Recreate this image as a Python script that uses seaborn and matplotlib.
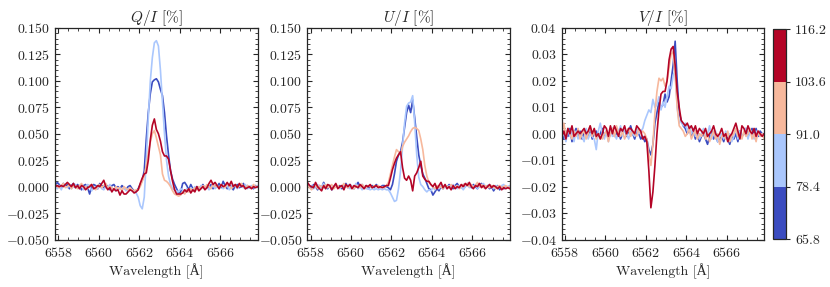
import numpy as np
import pandas as pd
import matplotlib
matplotlib.use("Agg")
import matplotlib.pyplot as plt
import seaborn as sns
from matplotlib.colors import ListedColormap, BoundaryNorm
from matplotlib.cm import ScalarMappable
from matplotlib.ticker import MultipleLocator, AutoMinorLocator

# wavelength grid [A], 101 samples across the H-alpha window
wavelength = np.linspace(6557.85, 6567.85, 101)

# colour-bar bin edges and the bin that each profile belongs to
bin_edges = [65.8, 78.4, 91.0, 103.6, 116.2]
bin_names = ["65.8-78.4", "78.4-91.0", "91.0-103.6", "103.6-116.2"]

# Q/I [%] profiles, one per bin
q_bin0 = [0.001, 0.004, 0.002, -0.001, 0.003, 0.000, 0.002, -0.002, 0.001, 0.003,
          -0.001, 0.002, 0.000, -0.003, 0.001, 0.002, -0.001, -0.007, 0.000, 0.002,
          0.001, -0.002, 0.003, 0.001, -0.001, 0.002, 0.000, -0.003, 0.001, 0.002,
          -0.001, 0.000, -0.002, 0.001, -0.001, -0.003, 0.000, 0.001, -0.002, -0.004,
          -0.004, -0.002, 0.002, 0.006, 0.015, 0.045, 0.070, 0.088, 0.099, 0.101,
          0.102, 0.099, 0.092, 0.086, 0.070, 0.048, 0.030, 0.015, 0.007, 0.002,
          -0.002, -0.006, -0.005, 0.003, 0.004, 0.001, -0.003, 0.002, -0.002, -0.004,
          0.000, -0.003, -0.001, 0.002, -0.002, 0.000, -0.001, 0.002, -0.002, 0.001,
          0.000, 0.003, -0.001, 0.005, 0.001, -0.002, 0.002, 0.000, -0.003, 0.001,
          0.002, -0.001, 0.000, 0.003, -0.002, 0.001, -0.001, 0.000, -0.002, 0.001,
          0.000]
q_bin1 = [0.000, -0.002, 0.001, -0.003, 0.002, 0.000, -0.001, 0.001, -0.002, 0.000,
          0.002, -0.001, -0.002, 0.001, -0.003, 0.000, 0.002, 0.001, -0.004, -0.001,
          0.000, -0.002, 0.001, -0.002, -0.003, 0.000, -0.001, 0.002, -0.002, -0.003,
          -0.004, -0.001, -0.002, -0.003, -0.001, -0.004, -0.002, -0.003, -0.004, -0.005,
          -0.006, -0.010, -0.018, -0.021, -0.010, 0.025, 0.065, 0.100, 0.122, 0.136,
          0.138, 0.133, 0.110, 0.080, 0.050, 0.025, 0.010, 0.002, -0.002, -0.003,
          -0.004, -0.005, -0.002, -0.003, -0.006, -0.002, -0.004, -0.001, -0.003, 0.000,
          -0.002, -0.003, 0.001, -0.001, -0.002, 0.000, -0.003, -0.001, 0.001, -0.002,
          0.000, -0.001, 0.002, -0.002, 0.000, 0.001, -0.003, -0.001, 0.002, 0.000,
          -0.002, 0.001, 0.000, -0.001, 0.002, -0.002, 0.000, 0.001, -0.001, 0.000,
          0.001]
q_bin2 = [0.002, 0.000, -0.001, 0.001, 0.003, -0.001, 0.000, 0.002, -0.002, 0.001,
          0.000, -0.002, 0.001, 0.003, -0.001, 0.000, -0.002, 0.001, 0.002, -0.001,
          -0.003, 0.000, 0.002, -0.001, 0.001, 0.003, -0.002, 0.000, -0.001, -0.003,
          0.000, -0.002, -0.001, -0.004, 0.000, -0.002, -0.003, -0.001, -0.003, -0.004,
          -0.003, -0.003, 0.000, 0.005, 0.010, 0.020, 0.032, 0.042, 0.050, 0.053,
          0.046, 0.038, 0.030, 0.012, 0.006, 0.005, 0.003, 0.000, -0.004, -0.007,
          -0.008, -0.009, -0.008, -0.005, -0.007, -0.003, -0.005, -0.002, -0.004, -0.001,
          -0.003, 0.000, -0.002, 0.001, -0.001, 0.002, 0.000, -0.002, 0.003, 0.000,
          0.001, -0.002, 0.002, 0.000, -0.001, 0.003, 0.001, -0.002, 0.000, 0.002,
          -0.001, 0.001, 0.003, 0.000, -0.002, 0.001, 0.000, -0.001, 0.002, 0.000,
          0.000]
q_bin3 = [0.000, 0.001, 0.000, 0.001, 0.000, 0.002, 0.004, 0.002, 0.000, 0.003,
          -0.001, 0.001, -0.002, 0.001, 0.000, -0.003, -0.001, 0.000, 0.002, -0.002,
          -0.001, 0.001, 0.000, 0.003, 0.006, 0.000, -0.003, -0.001, -0.005, -0.002,
          -0.004, -0.003, -0.008, -0.004, -0.007, -0.007, -0.005, -0.003, -0.004, -0.006,
          -0.005, -0.003, 0.003, 0.008, 0.012, 0.013, 0.025, 0.044, 0.058, 0.064,
          0.054, 0.050, 0.043, 0.033, 0.029, 0.029, 0.026, 0.015, 0.005, -0.003,
          -0.007, -0.007, -0.007, -0.006, -0.003, -0.005, -0.002, -0.006, -0.003, -0.005,
          0.000, -0.004, -0.002, 0.000, -0.003, -0.001, 0.003, 0.006, 0.002, 0.004,
          0.001, -0.002, 0.002, 0.000, 0.001, 0.004, 0.001, 0.005, 0.000, 0.002,
          -0.001, 0.003, 0.000, 0.001, -0.002, -0.001, 0.000, -0.002, 0.000, -0.001,
          0.000]

# U/I [%] profiles
u_bin0 = [0.003, 0.001, -0.002, 0.002, 0.000, -0.003, 0.001, -0.001, 0.004, 0.000,
          -0.002, 0.001, -0.003, 0.000, 0.002, -0.001, 0.001, -0.002, 0.000, 0.003,
          -0.001, 0.002, 0.000, -0.002, 0.001, 0.004, 0.000, 0.002, -0.001, 0.001,
          -0.002, 0.000, 0.001, -0.001, 0.002, 0.000, -0.001, 0.001, 0.001, 0.000,
          -0.001, -0.003, 0.002, 0.012, 0.024, 0.030, 0.033, 0.042, 0.056, 0.070,
          0.077, 0.070, 0.082, 0.065, 0.047, 0.030, 0.020, 0.012, 0.008, 0.003,
          -0.002, -0.003, -0.008, -0.005, -0.002, -0.004, 0.000, -0.002, 0.001, -0.001,
          0.002, 0.000, -0.002, 0.001, 0.003, 0.000, -0.001, 0.002, 0.000, 0.003,
          0.001, -0.001, 0.002, 0.000, -0.002, 0.001, 0.003, 0.000, -0.001, 0.001,
          -0.002, 0.000, -0.004, -0.001, 0.001, -0.003, 0.000, -0.002, -0.001, 0.000,
          -0.001]
u_bin1 = [0.002, 0.000, 0.001, -0.002, 0.000, 0.002, -0.001, 0.000, 0.003, -0.002,
          0.000, 0.001, -0.003, -0.001, 0.002, 0.000, -0.002, 0.001, -0.001, 0.000,
          0.002, -0.002, 0.000, -0.001, 0.003, -0.002, 0.000, -0.003, -0.001, -0.002,
          -0.002, -0.003, -0.002, -0.003, -0.002, -0.003, -0.002, -0.003, -0.002, -0.003,
          -0.003, -0.006, -0.010, -0.014, -0.013, -0.002, 0.015, 0.038, 0.060, 0.076,
          0.079, 0.080, 0.086, 0.060, 0.030, 0.009, 0.002, 0.000, -0.003, -0.005,
          -0.003, -0.004, -0.001, -0.003, 0.000, -0.002, 0.001, -0.001, 0.000, -0.002,
          0.001, -0.001, 0.002, 0.000, -0.002, 0.001, 0.000, -0.003, 0.000, 0.002,
          -0.001, 0.001, 0.000, 0.002, -0.002, 0.000, 0.001, 0.003, -0.001, 0.000,
          0.002, 0.000, -0.002, 0.001, 0.000, -0.001, 0.001, 0.002, -0.001, 0.000,
          0.001]
u_bin2 = [0.001, -0.001, -0.003, 0.000, 0.002, -0.002, 0.001, 0.000, -0.001, 0.002,
          -0.001, 0.000, 0.002, -0.002, 0.000, 0.001, -0.001, 0.000, 0.003, 0.000,
          -0.001, 0.001, 0.000, -0.002, 0.001, 0.000, -0.001, 0.002, 0.000, -0.001,
          0.001, 0.000, -0.001, 0.001, 0.000, 0.001, -0.001, 0.000, -0.001, 0.001,
          0.004, 0.012, 0.020, 0.028, 0.035, 0.033, 0.030, 0.038, 0.042, 0.045,
          0.048, 0.052, 0.055, 0.056, 0.055, 0.053, 0.045, 0.035, 0.020, 0.010,
          0.004, 0.002, 0.000, -0.002, 0.001, -0.001, 0.000, -0.002, 0.001, 0.000,
          -0.001, 0.002, 0.000, -0.001, 0.001, -0.002, 0.000, 0.002, 0.001, 0.003,
          0.000, 0.002, -0.001, 0.001, 0.004, 0.000, 0.002, -0.001, 0.001, 0.000,
          -0.001, 0.001, 0.000, -0.002, 0.000, 0.001, -0.001, 0.000, 0.001, -0.001,
          0.000]
u_bin3 = [0.004, 0.001, 0.000, -0.001, 0.004, 0.000, -0.002, -0.004, 0.001, -0.002,
          0.002, 0.001, -0.003, 0.000, 0.003, -0.002, 0.000, 0.001, -0.003, 0.002,
          0.000, 0.002, -0.002, 0.001, 0.000, -0.001, 0.002, 0.000, -0.002, 0.001,
          0.000, 0.002, -0.001, 0.000, 0.001, -0.001, 0.000, -0.001, 0.000, 0.001,
          0.001, 0.008, 0.016, 0.022, 0.027, 0.030, 0.033, 0.018, 0.008, 0.006,
          0.010, 0.006, -0.004, 0.010, 0.013, 0.018, 0.024, 0.010, 0.007, 0.005,
          0.005, 0.002, 0.000, 0.003, -0.002, 0.001, 0.004, -0.001, 0.002, -0.002,
          0.000, -0.003, 0.001, -0.002, 0.000, -0.001, 0.002, 0.000, 0.003, 0.001,
          0.004, 0.000, -0.002, 0.001, 0.000, 0.003, -0.001, 0.001, -0.002, 0.000,
          0.002, -0.001, 0.001, 0.000, -0.002, 0.000, -0.003, -0.001, -0.002, -0.001,
          -0.002]

# V/I [%] profiles
v_bin0 = [0.000, -0.002, 0.001, -0.001, 0.002, -0.003, 0.000, 0.002, -0.001, 0.001,
          -0.002, 0.001, 0.000, -0.001, 0.002, -0.002, 0.000, 0.001, -0.001, 0.000,
          0.002, -0.001, 0.001, -0.002, 0.000, 0.002, -0.001, 0.000, 0.001, -0.002,
          0.000, 0.002, -0.001, 0.001, 0.003, 0.000, -0.002, 0.001, 0.000, -0.002,
          -0.001, -0.003, -0.002, -0.006, -0.008, -0.004, 0.004, 0.008, 0.012, 0.010,
          0.011, 0.015, 0.012, 0.014, 0.020, 0.026, 0.035, 0.020, 0.008, 0.005,
          0.003, 0.002, 0.000, 0.002, -0.001, 0.001, -0.002, 0.000, -0.003, -0.001,
          0.000, -0.002, -0.004, -0.001, 0.001, -0.002, 0.000, -0.003, -0.002, -0.001,
          -0.003, 0.000, -0.002, -0.004, -0.001, -0.002, 0.000, -0.003, 0.001, -0.001,
          0.000, 0.002, -0.001, 0.001, 0.002, 0.000, 0.002, -0.001, 0.001, 0.000,
          0.000]
v_bin1 = [-0.002, 0.001, -0.003, 0.002, -0.001, 0.000, -0.003, 0.001, -0.002, 0.000,
          -0.001, -0.003, 0.002, -0.002, 0.000, -0.001, -0.002, -0.006, 0.001, 0.004,
          0.000, -0.002, 0.001, -0.003, 0.002, -0.001, 0.000, -0.002, 0.001, 0.003,
          -0.001, 0.002, 0.000, -0.002, 0.001, 0.000, -0.001, 0.002, 0.000, 0.001,
          0.002, 0.005, 0.007, 0.009, 0.008, 0.013, 0.010, 0.011, 0.014, 0.009,
          0.012, 0.010, 0.014, 0.018, 0.017, 0.022, 0.024, 0.010, 0.004, 0.005,
          0.003, 0.004, 0.001, 0.003, 0.000, 0.002, -0.001, 0.001, -0.002, 0.000,
          0.002, -0.001, 0.000, 0.003, -0.002, 0.000, 0.001, -0.003, -0.001, 0.000,
          -0.002, 0.001, -0.001, 0.000, -0.003, -0.001, 0.002, -0.002, 0.001, -0.001,
          0.000, 0.002, -0.002, 0.001, 0.000, -0.002, 0.001, 0.000, -0.001, 0.000,
          -0.001]
v_bin2 = [0.000, 0.004, -0.001, 0.002, 0.000, -0.002, 0.001, -0.001, 0.002, -0.002,
          0.000, 0.001, -0.002, 0.000, 0.003, -0.001, 0.001, -0.002, 0.000, -0.001,
          -0.002, 0.000, 0.001, -0.003, 0.000, 0.002, -0.001, 0.003, 0.000, -0.001,
          0.001, -0.002, 0.000, 0.002, -0.001, 0.001, 0.000, -0.001, 0.002, 0.000,
          0.001, 0.000, -0.002, -0.008, -0.012, -0.004, 0.008, 0.016, 0.021, 0.020,
          0.021, 0.018, 0.020, 0.025, 0.030, 0.031, 0.022, 0.010, 0.003, 0.002,
          0.001, -0.001, 0.000, 0.002, -0.002, 0.000, 0.001, -0.002, 0.000, -0.001,
          0.001, -0.002, 0.000, -0.003, -0.001, 0.001, -0.002, 0.000, -0.004, -0.001,
          0.000, -0.002, 0.001, -0.003, -0.001, 0.000, 0.002, -0.001, 0.000, -0.002,
          0.001, -0.001, 0.000, 0.002, -0.002, 0.000, -0.003, 0.001, -0.001, 0.000,
          -0.002]
v_bin3 = [-0.001, 0.001, -0.002, 0.002, 0.000, 0.003, -0.001, 0.000, 0.001, 0.000,
          0.001, 0.002, 0.000, 0.001, 0.003, 0.000, 0.002, -0.001, 0.000, -0.002,
          0.000, 0.003, 0.002, -0.001, 0.003, 0.000, 0.003, 0.001, -0.001, 0.002,
          0.001, 0.003, 0.000, 0.002, 0.002, 0.001, 0.000, 0.003, 0.002, 0.001,
          -0.002, -0.001, -0.003, -0.014, -0.028, -0.022, -0.012, 0.000, 0.009, 0.015,
          0.016, 0.016, 0.020, 0.028, 0.032, 0.033, 0.026, 0.016, 0.010, 0.005,
          0.004, 0.003, 0.004, 0.002, 0.003, 0.001, 0.003, 0.000, 0.002, 0.001,
          0.000, 0.002, -0.001, 0.000, 0.001, 0.003, 0.000, -0.001, 0.000, 0.002,
          -0.001, 0.000, -0.003, -0.001, 0.000, 0.002, 0.004, 0.001, -0.002, 0.003,
          0.002, 0.000, 0.003, 0.001, 0.000, 0.002, -0.001, 0.001, 0.000, -0.001,
          0.000]

panel_titles = [r"$Q/I$ [%]", r"$U/I$ [%]", r"$V/I$ [%]"]
panel_series = [[q_bin0, q_bin1, q_bin2, q_bin3],
                [u_bin0, u_bin1, u_bin2, u_bin3],
                [v_bin0, v_bin1, v_bin2, v_bin3]]
panel_ylims = [(-0.05, 0.15), (-0.05, 0.15), (-0.04, 0.04)]
panel_ysteps = [0.025, 0.025, 0.01]

sns.set_style("ticks")
plt.rcParams["font.family"] = ["cmr10", "Liberation Serif"]
plt.rcParams["mathtext.fontset"] = "cm"
plt.rcParams["axes.formatter.use_mathtext"] = True
plt.rcParams["axes.linewidth"] = 0.9
plt.rcParams["font.size"] = 10

cmap = plt.get_cmap("coolwarm")
colors = [cmap(v) for v in np.linspace(0, 1, 4)]
palette = dict(zip(bin_names, colors))

fig = plt.figure(figsize=(8.3, 2.87), dpi=100)
lefts = [0.0663, 0.3702, 0.6767]

for k in range(3):
    ax = fig.add_axes([lefts[k], 0.1655, 0.244, 0.737])
    rows = []
    for name, vals in zip(bin_names, panel_series[k]):
        rows.append(pd.DataFrame({"wavelength": wavelength, "value": vals, "bin": name}))
    df = pd.concat(rows, ignore_index=True)
    sns.lineplot(data=df, x="wavelength", y="value", hue="bin", hue_order=bin_names,
                 palette=palette, legend=False, lw=1.2, ax=ax)
    ax.set_xlim(wavelength[0] - 0.01, wavelength[-1])
    ax.set_ylim(*panel_ylims[k])
    ax.xaxis.set_major_locator(MultipleLocator(2))
    ax.yaxis.set_major_locator(MultipleLocator(panel_ysteps[k]))
    ax.xaxis.set_minor_locator(AutoMinorLocator())
    ax.yaxis.set_minor_locator(AutoMinorLocator())
    ax.tick_params(which="both", direction="in", top=True, right=True, labelsize=10)
    ax.tick_params(axis="x", pad=4.5)
    ax.tick_params(which="major", length=3.5, width=0.8)
    ax.tick_params(which="minor", length=2, width=0.6)
    ax.set_title(panel_titles[k], fontsize=11, pad=4)
    ax.set_xlabel("Wavelength [Å]", fontsize=10, labelpad=3)
    ax.set_ylabel("")

# discrete colour bar
cax = fig.add_axes([0.931, 0.167, 0.016, 0.732])
sm = ScalarMappable(norm=BoundaryNorm(bin_edges, 4), cmap=ListedColormap(colors))
cb = fig.colorbar(sm, cax=cax, ticks=bin_edges, format="%.1f")
cb.ax.tick_params(labelsize=10, length=3, width=0.8)
cb.outline.set_linewidth(0.9)

fig.savefig("out.png", dpi=100)
